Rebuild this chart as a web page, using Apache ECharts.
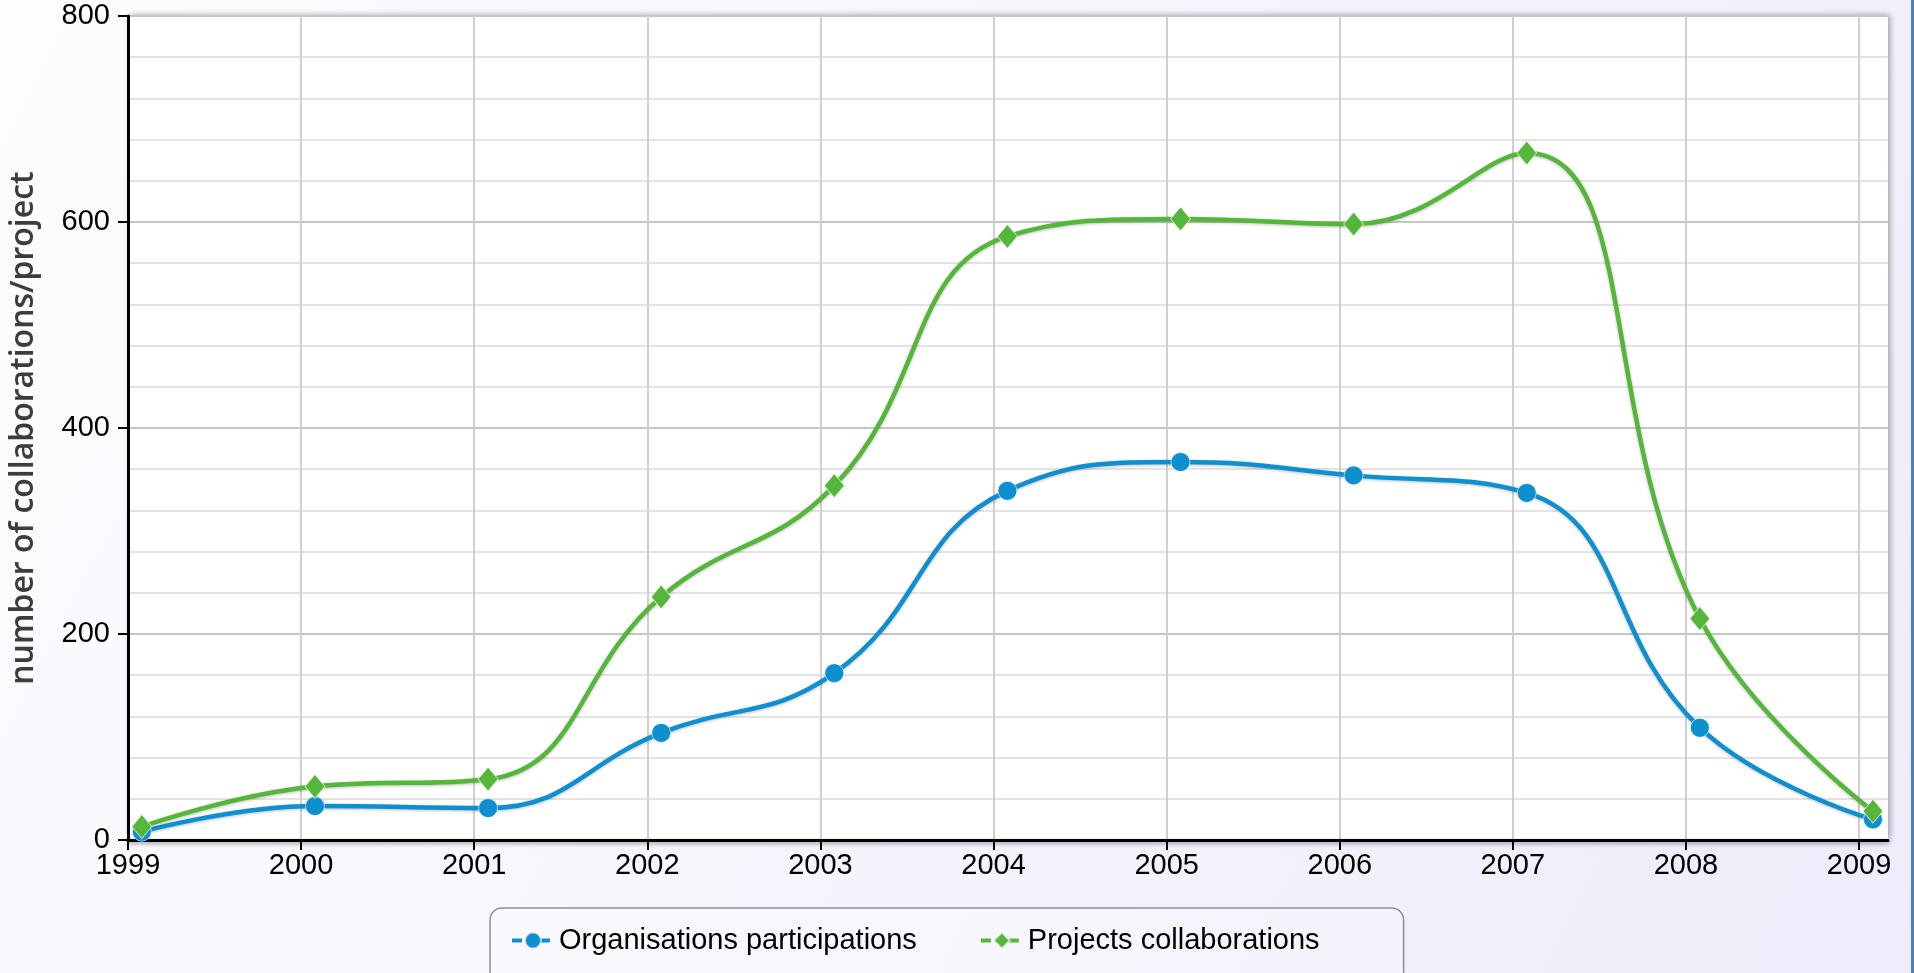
<!DOCTYPE html>
<html>
<head>
<meta charset="utf-8">
<script src="https://cdn.jsdelivr.net/npm/echarts@6/dist/echarts.min.js"></script>
<style>
html,body{margin:0;padding:0;width:1914px;height:973px;overflow:hidden;background:#f4f4fc}
#c{width:1914px;height:973px}
</style>
</head>
<body>
<div id="c"></div>
<script>
// ---- data ----
const years = [1999, 2000, 2001, 2002, 2003, 2004, 2005, 2006, 2007, 2008, 2009];
const tickLabels = ['1999', '2000', '2001', '2002', '2003', '2004', '2005', '2006', '2007', '2008', '2009'];
// points sit about one month after each year tick (early February)
const pointYears = [1999.08, 2000.08, 2001.08, 2002.08, 2003.08, 2004.08, 2005.08, 2006.08, 2007.08, 2008.08, 2009.08];
const organisations = [8, 33, 31, 104, 162, 339, 367, 354, 337, 109, 20];
const projects = [13, 52, 59, 236, 344, 586, 603, 598, 667, 215, 28];
const seriesNames = ['Organisations participations', 'Projects collaborations'];
const yTicks = [0, 200, 400, 600, 800];
const yTitle = 'number of collaborations/project';

const FONT = "'Liberation Sans','Arial',sans-serif";
const BLUE = '#0e8fd0';
const GREEN = '#55b73a';

const chart = echarts.init(document.getElementById('c'), null, {renderer: 'canvas'});
chart.setOption({
  animation: false,
  backgroundColor: new echarts.graphic.LinearGradient(0, 0, 1, 1, [
    {offset: 0, color: '#fdfdff'},
    {offset: 1, color: '#ededfb'}
  ]),
  graphic: [{
    type: 'rect', right: 0, top: 0,
    shape: {width: 3, height: 973},
    style: {fill: '#4d7ebf'}
  }],
  grid: {
    left: 124, right: 26, top: 16, bottom: 133,
    show: true, backgroundColor: '#ffffff', borderWidth: 0,
    shadowColor: 'rgba(0,0,0,0.35)', shadowBlur: 6, shadowOffsetX: 2, shadowOffsetY: -1
  },
  legend: {
    left: 490, top: 908,
    itemWidth: 42, itemHeight: 20, itemGap: 62,
    padding: [18, 84, 30, 20],
    borderColor: '#8e8e96', borderWidth: 1.5, borderRadius: 12,
    backgroundColor: 'rgba(255,255,255,0.25)',
    textStyle: {fontFamily: FONT, fontSize: 29, color: '#000'},
    lineStyle: {type: [10, 4], width: 4},
    data: seriesNames
  },
  xAxis: {
    type: 'value', min: 1999, max: 2009.167, interval: 1,
    axisLine: {show: true, onZero: false, lineStyle: {color: '#000', width: 3, shadowColor: 'rgba(0,0,0,0.35)', shadowBlur: 4, shadowOffsetY: 2}},
    axisTick: {show: true, customValues: years, length: 10, lineStyle: {color: '#000', width: 2}},
    axisLabel: {
      customValues: years, margin: 11, fontSize: 29, color: '#000', fontFamily: FONT,
      formatter: v => tickLabels[years.indexOf(Math.round(v))] || ''
    },
    splitLine: {show: true, lineStyle: {color: '#cfcfcf', width: 2}}
  },
  yAxis: {
    type: 'value', min: 0, max: 800, interval: 200,
    name: yTitle, nameLocation: 'middle', nameGap: 88, nameRotate: 90,
    nameTextStyle: {fontFamily: "'Open Sans','Noto Sans',sans-serif", fontSize: 32, fontWeight: 600, color: '#3c3c3c'},
    axisLine: {show: true, lineStyle: {color: '#000', width: 3}},
    axisTick: {show: true, length: 10, lineStyle: {color: '#000', width: 2}},
    axisLabel: {margin: 18, fontSize: 29, color: '#000', fontFamily: FONT,
      formatter: v => yTicks.indexOf(v) >= 0 ? String(v) : ''},
    splitLine: {show: true, lineStyle: {color: '#c6c6c6', width: 2}},
    minorTick: {show: false, splitNumber: 5},
    minorSplitLine: {show: true, lineStyle: {color: '#e3e3e3', width: 2}}
  },
  series: [
    {
      name: seriesNames[0], type: 'line', smooth: 0.45,
      data: pointYears.map((x, i) => [x, organisations[i]]),
      symbol: 'circle', symbolSize: 19,
      color: BLUE,
      lineStyle: {width: 4.5, color: BLUE, shadowColor: 'rgba(0,0,0,0.25)', shadowBlur: 3, shadowOffsetY: 1},
      itemStyle: {color: BLUE, borderColor: 'rgba(255,255,255,0.6)', borderWidth: 1}
    },
    {
      name: seriesNames[1], type: 'line', smooth: 0.45,
      data: pointYears.map((x, i) => [x, projects[i]]),
      symbol: 'diamond', symbolSize: [20, 24],
      color: GREEN,
      lineStyle: {width: 4.5, color: GREEN, shadowColor: 'rgba(0,0,0,0.25)', shadowBlur: 3, shadowOffsetY: 1},
      itemStyle: {color: GREEN, borderColor: 'rgba(255,255,255,0.6)', borderWidth: 1}
    }
  ]
});
</script>
</body>
</html>
